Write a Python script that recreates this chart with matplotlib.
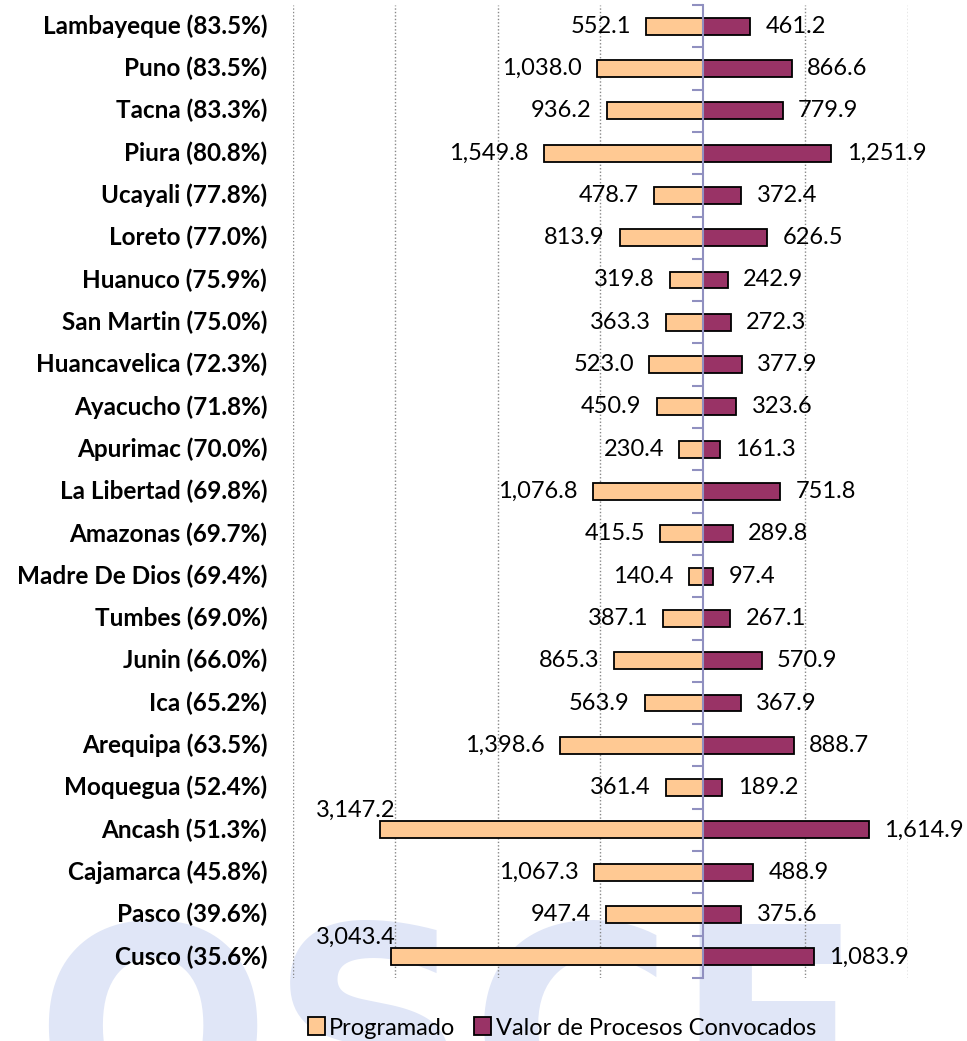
import numpy as np
import matplotlib.pyplot as plt
from matplotlib.patches import Patch

# data (millions)
regiones = ['Lambayeque', 'Puno', 'Tacna', 'Piura', 'Ucayali', 'Loreto', 'Huanuco',
            'San Martin', 'Huancavelica', 'Ayacucho', 'Apurimac', 'La Libertad',
            'Amazonas', 'Madre De Dios', 'Tumbes', 'Junin', 'Ica', 'Arequipa',
            'Moquegua', 'Ancash', 'Cajamarca', 'Pasco', 'Cusco']
avance = [83.5, 83.5, 83.3, 80.8, 77.8, 77.0, 75.9, 75.0, 72.3, 71.8, 70.0, 69.8,
          69.7, 69.4, 69.0, 66.0, 65.2, 63.5, 52.4, 51.3, 45.8, 39.6, 35.6]
programado = [552.1, 1038.0, 936.2, 1549.8, 478.7, 813.9, 319.8, 363.3, 523.0, 450.9,
              230.4, 1076.8, 415.5, 140.4, 387.1, 865.3, 563.9, 1398.6, 361.4, 3147.2,
              1067.3, 947.4, 3043.4]
convocado = [461.2, 866.6, 779.9, 1251.9, 372.4, 626.5, 242.9, 272.3, 377.9, 323.6,
             161.3, 751.8, 289.8, 97.4, 267.1, 570.9, 367.9, 888.7, 189.2, 1614.9,
             488.9, 375.6, 1083.9]

c_prog = '#FFC993'
c_conv = '#993366'
fnt = 'Lato'

fig = plt.figure(figsize=(9.67, 10.41), dpi=100)

# faint watermark behind everything
fig.text(0.035, 1 - 915 / 1041, 'OSCE', fontsize=200, fontweight='bold', family='DejaVu Sans',
         color='#e0e6f7', va='top', ha='left', zorder=-1)

ax = fig.add_axes([293 / 967, 1 - 978 / 1041, 615 / 967, 973 / 1041])
ax.set_facecolor('none')
ax.set_zorder(1)

y = np.arange(len(regiones))
ax.barh(y, -np.array(programado), height=0.4, color=c_prog, edgecolor='black', lw=1.3, zorder=3)
ax.barh(y, convocado, height=0.4, color=c_conv, edgecolor='black', lw=1.3, zorder=3)

ax.set_xlim(-4000, 2000)
ax.set_ylim(len(regiones) - 0.5, -0.5)

for g in [-4000, -3000, -2000, -1000, 1000, 2000]:
    ax.axvline(g, color='#888888', ls=(0, (1, 1.5)), lw=1, zorder=1)

for s in ['top', 'right', 'bottom']:
    ax.spines[s].set_visible(False)
ax.spines['left'].set_position(('data', 0))
ax.spines['left'].set_color('#9090c0')
ax.spines['left'].set_linewidth(1.5)
ax.spines['left'].set_zorder(4)
ax.set_xticks([])
ax.set_yticks(np.arange(-0.5, len(regiones), 1.0))
ax.set_yticklabels([])
ax.tick_params(axis='y', direction='out', length=8, width=1.5, color='#9090c0')

def fmt(v):
    return f'{v:,.1f}'

for i in range(len(regiones)):
    ax.text(-0.042, i, f'{regiones[i]} ({avance[i]:.1f}%)', transform=ax.get_yaxis_transform(),
            ha='right', va='center', fontsize=17.5, fontweight='bold', family=fnt)
    p = programado[i]
    if p > 2500:
        ax.text(-3000, i - 0.22, fmt(p), ha='right', va='bottom', fontsize=17, family=fnt, zorder=5)
    else:
        ax.annotate(fmt(p), (-p, i), xytext=(-11, 0), textcoords='offset points',
                    ha='right', va='center', fontsize=17, family=fnt)
    ax.annotate(fmt(convocado[i]), (convocado[i], i), xytext=(11, 0), textcoords='offset points',
                ha='left', va='center', fontsize=17, family=fnt)

handles = [Patch(facecolor=c_prog, edgecolor='black', lw=1.3, label='Programado'),
           Patch(facecolor=c_conv, edgecolor='black', lw=1.3, label='Valor de Procesos Convocados')]
leg = fig.legend(handles=handles, loc='center', bbox_to_anchor=(562 / 967, 1 - 1028 / 1041), ncol=2,
                 frameon=False, prop={'family': fnt, 'size': 17}, handlelength=0.7, handleheight=0.8,
                 handletextpad=0.2, columnspacing=0.8)
leg.set_zorder(2)

fig.savefig('out.png', dpi=100)
